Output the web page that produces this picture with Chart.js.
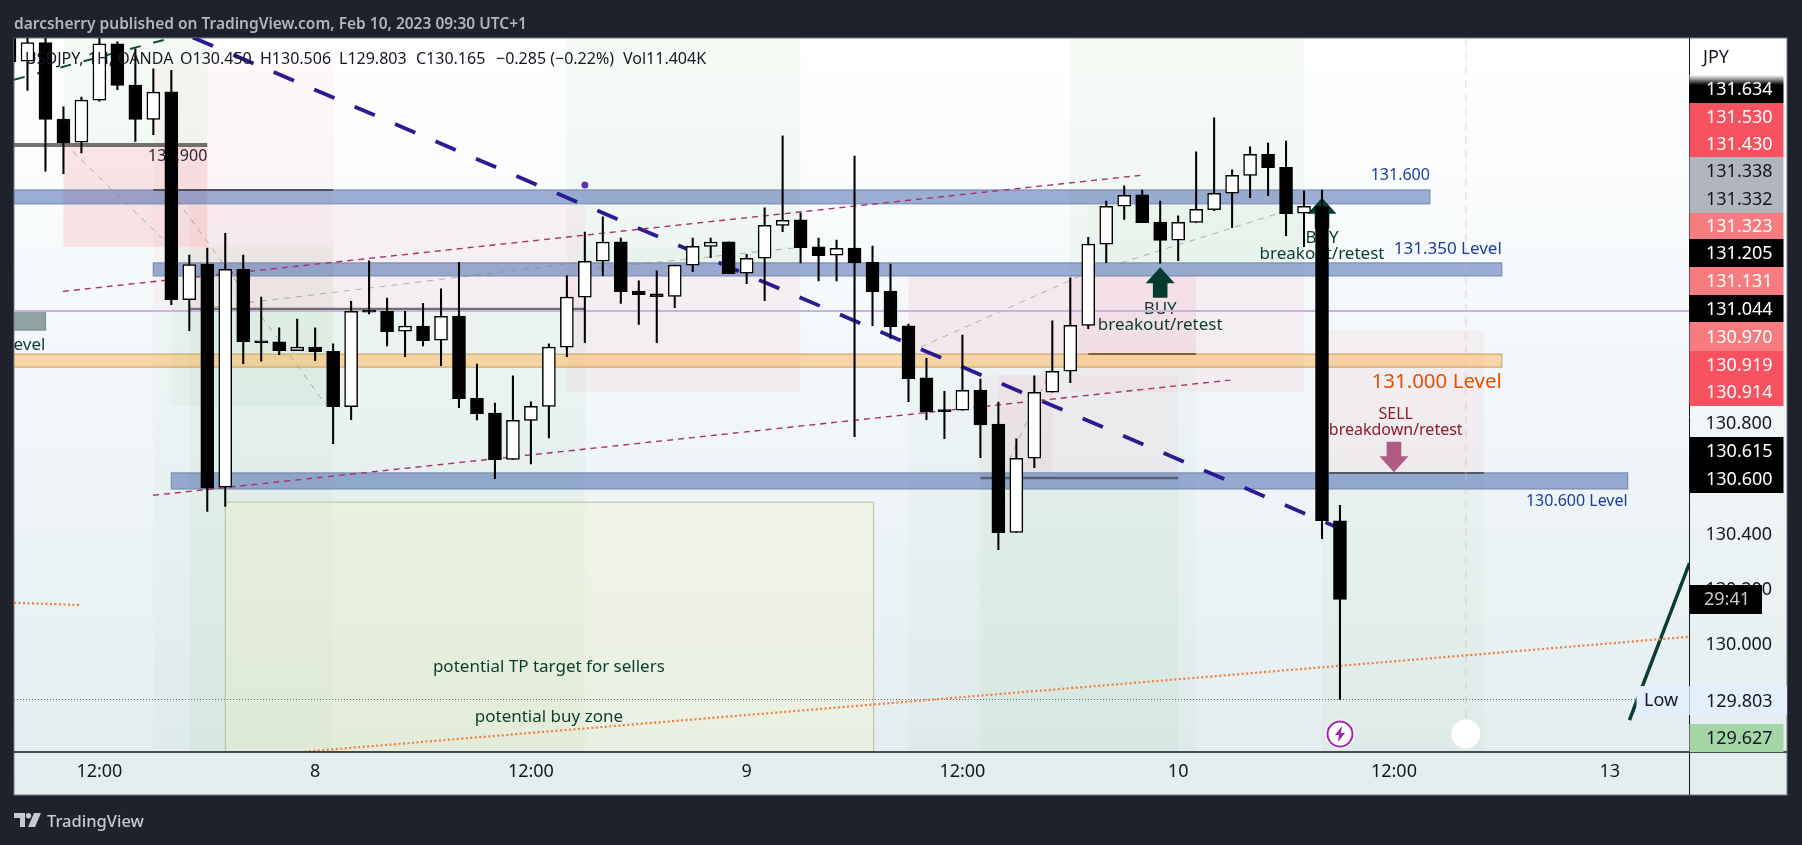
<!DOCTYPE html>
<html>
<head>
<meta charset="utf-8">
<title>USDJPY 1H</title>
<script src="https://cdn.jsdelivr.net/npm/chart.js@4"></script>
<style>
  html, body { margin: 0; padding: 0; background: #1e222d; overflow: hidden; }
  body { width: 1802px; height: 845px; position: relative; font-family: "Noto Sans", sans-serif; }
  canvas { position: absolute; left: 0; top: 0; }
  #title { position: absolute; left: 14px; top: 12px; color: #b2b5be; font-size: 15.5px; font-weight: 600; white-space: nowrap; }
  #brand { position: absolute; left: 14px; top: 809px; color: #c8cad2; font-size: 16.5px; font-weight: 500; white-space: nowrap; }
  #brand svg { position: absolute; left: 0; top: 4px; }
  #brand span { position: absolute; left: 33px; top: 0; }
</style>
</head>
<body>
<canvas id="chart" width="1802" height="845"></canvas>
<div id="title">darcsherry published on TradingView.com, Feb 10, 2023 09:30 UTC+1</div>
<div id="brand">
  <svg width="28" height="15" viewBox="0 0 28 15" fill="#c8cad2">
    <path d="M0 0h11v14H6V5H0z"/><circle cx="14.5" cy="2.7" r="2.7"/><path d="M20 0h7l-6 14h-7z"/>
  </svg>
  <span>TradingView</span>
</div>
<script>
// hourly candles from Feb 7 07:00, index 16 is Feb 8 00:00, first one is cut by the frame
const firstIndex = -1;
const opens = [132.300,132.113,132.180,131.904,131.820,131.972,132.176,132.027,131.902,132.002,131.250,
  131.379,130.571,131.360,131.100,131.097,131.065,131.078,131.063,130.863,131.209,
  131.208,131.136,131.154,131.103,131.191,130.893,130.840,130.672,130.813,130.864,
  131.078,131.259,131.389,131.459,131.281,131.271,131.262,131.375,131.443,131.459,
  131.346,131.400,131.519,131.539,131.441,131.411,131.437,131.385,131.281,131.155,
  130.967,130.851,130.850,130.923,130.800,130.408,130.676,130.915,130.991,131.157,
  131.451,131.588,131.629,131.531,131.465,131.530,131.576,131.635,131.700,131.776,
  131.729,131.563,131.587,130.450];
const highs = [132.300,132.300,132.300,131.948,131.983,132.300,132.183,132.158,132.085,132.080,131.411,
  131.437,131.490,131.411,131.259,131.148,131.180,131.148,131.090,131.244,131.391,
  131.256,131.208,131.237,131.289,131.385,131.017,130.876,130.974,130.880,131.090,
  131.336,131.495,131.550,131.473,131.318,131.354,131.375,131.473,131.473,131.459,
  131.414,131.582,131.843,131.563,131.473,131.466,131.770,131.444,131.379,131.162,
  131.038,130.918,131.122,130.963,130.879,130.746,130.974,131.173,131.329,131.476,
  131.607,131.662,131.647,131.607,131.553,131.785,131.908,131.720,131.803,131.817,
  131.824,131.643,131.647,130.506];
const lows = [132.110,132.007,131.715,131.706,131.781,131.968,132.010,131.823,131.847,131.232,131.138,
  130.484,130.502,131.018,131.027,131.051,131.065,131.029,130.729,130.816,131.198,
  131.083,131.044,131.083,131.011,130.859,130.815,130.602,130.672,130.656,130.750,
  131.044,131.094,131.337,131.236,131.160,131.094,131.221,131.351,131.402,131.344,
  131.308,131.246,131.496,131.383,131.318,131.318,130.754,131.156,131.110,130.881,
  130.816,130.747,130.850,130.678,130.345,130.408,130.642,130.915,130.950,131.145,
  131.384,131.540,131.529,131.382,131.391,131.530,131.572,131.511,131.619,131.626,
  131.482,131.442,130.385,129.803];
const closes = [132.110,132.180,131.902,131.818,131.972,132.176,132.025,131.902,132.001,131.250,131.377,
  130.568,131.360,131.098,131.094,131.065,131.078,131.062,130.863,131.208,131.205,
  131.134,131.154,131.102,131.190,130.892,130.837,130.671,130.813,130.864,131.078,
  131.259,131.389,131.458,131.279,131.268,131.261,131.375,131.443,131.458,131.344,
  131.400,131.519,131.537,131.438,131.409,131.436,131.384,131.279,131.152,130.964,
  130.845,130.845,130.922,130.797,130.407,130.676,130.915,130.991,131.157,131.451,
  131.588,131.628,131.529,131.464,131.530,131.577,131.635,131.700,131.776,131.728,
  131.561,131.588,130.450,130.165];

const timeTickIndex = [4, 16, 28, 40, 52, 64, 76, 88];
const timeTickLabels = ['12:00', '8', '12:00', '9', '12:00', '10', '12:00', '13'];
const priceTicks = [130.0, 130.2, 130.4, 130.8];
const xMin = -0.75, xMax = 92.44, yMin = 129.613, yMax = 132.197;

// drawn objects, bar index and price
const trendBlue = [[8.48, 132.219], [72.8, 130.427]];
const trendPinkUpper = [[1.97, 131.280], [61.9, 131.700]];
const trendPinkLower = [[6.98, 130.542], [66.9, 130.959]];
const trendGreenDash = [[-0.75, 132.046], [9.04, 132.215]];
const trendOrange = [[15.4, 129.614], [92.44, 130.030]];
const trendOrangeLeft = [[-0.75, 130.153], [2.92, 130.145]];
const trendGreenSolid = [[89.1, 129.728], [92.44, 130.297]];
const grayPaths = [
  [[2.03, 131.817], [7.48, 131.473]],
  [[8.31, 131.611], [16.6, 130.869]],
  [[8.98, 131.213], [30.56, 131.383]],
  [[31.0, 131.358], [42.63, 131.437]],
  [[49.69, 131.079], [58.65, 131.339]],
  [[54.6, 130.670], [56.65, 130.959]],
  [[60.8, 131.383], [69.66, 131.564]]
];
const blueDot = [[31, 131.665]];
const lowPrice = [[xMin, 129.803], [xMax, 129.803]];
const purpleLine = [[xMin, 131.209], [xMax, 131.209]];

// from, to, top, bottom
const pinkZones = [
  [2, 10, 131.81, 131.441, 0.12],
  [7, 17, 132.10, 131.209, 0.035],
  [9, 31, 131.593, 131.209, 0.05],
  [30, 43, 131.383, 130.916, 0.05],
  [49, 65, 131.339, 131.053, 0.08],
  [53, 64, 130.977, 130.623, 0.04],
  [54, 57, 130.977, 130.623, 0.05],
  [58, 71, 131.339, 130.916, 0.05],
  [72.4, 81, 131.14, 130.623, 0.05]
];
const greenZones = [
  [2, 10, yMax, 131.81, 0.05],
  [7, 17, 131.209, 129.624, 0.03],
  [8, 17, 131.441, 130.865, 0.05],
  [9, 31, 131.209, yMin, 0.05],
  [30, 43, yMax, 131.383, 0.05],
  [31, 43, 131.441, 131.383, 0.03],
  [49, 65, 131.053, yMin, 0.03],
  [53, 64, 130.623, yMin, 0.05],
  [58, 71, yMax, 131.339, 0.05],
  [59, 71, 131.593, 131.383, 0.04],
  [72, 81, 130.623, yMin, 0.04]
];
const blueBands = [
  [xMin, 78, 131.647, 131.597],
  [7, 82, 131.383, 131.336],
  [8, 89, 130.623, 130.565]
];
const orangeBand = [xMin, 82, 131.053, 131.006];
const targetBox = [11, 47.06, 130.517, yMin];
const greyBox = [xMin, 1, 131.209, 131.14];
// from, to, price, width, colour
const darkLines = [
  [xMin, 10, 131.81, 4, 'rgba(70,70,70,0.75)'],
  [7, 17, 131.647, 2, 'rgba(60,60,70,0.8)'],
  [9, 31, 131.216, 2.5, 'rgba(70,70,70,0.75)'],
  [59, 65, 131.053, 2, 'rgba(110,80,40,0.85)'],
  [53, 64, 130.605, 2.5, 'rgba(70,70,80,0.75)'],
  [72.4, 81, 130.623, 2, 'rgba(70,70,80,0.8)']
];
const labelTexts = ['131.900', '131.600', '131.350 Level', '131.000 Level', '130.600 Level', 'level',
  'BUY', 'breakout/retest', 'BUY', 'breakout/retest', 'SELL', 'breakdown/retest',
  'potential TP target for sellers', 'potential buy zone'];
const labelIndex = [10, 78, 82, 82, 89, 1, 63, 63, 72, 72, 76.1, 76.1, 29, 29];
const labelPrice = [131.767, 131.699, 131.432, 130.950, 130.519, 131.086,
  131.215, 131.158, 131.472, 131.415, 130.833, 130.775, 129.920, 129.739];
const labelColor = ['#2a2530', '#1a3e9c', '#1a3e9c', '#e65100', '#1a3e9c', '#0b3d2e',
  '#0b3d2e', '#0b3d2e', '#0b3d2e', '#0b3d2e', '#8e1b2a', '#8e1b2a', '#0b3d2e', '#0b3d2e'];
const labelSize = [16, 16, 17, 20.5, 16, 17, 17, 17, 17, 17, 16, 16, 17, 17];
const labelAlign = ['right', 'right', 'right', 'right', 'right', 'right',
  'center', 'center', 'center', 'center', 'center', 'center', 'center', 'center'];
const buyArrows = [[63, 131.367], [72, 131.619]];
const sellArrows = [[76, 130.625]];
const legendParts = ['USDJPY, 1H, OANDA', 'O130.450', 'H130.506', 'L129.803', 'C130.165', '\u22120.285 (\u22120.22%)', 'Vol11.404K'];
const legendX = [25, 180, 260, 339, 416, 496, 623];

// price scale tags, stacked as they sit on the axis
const tagLabels = ['131.634', '131.530', '131.430', '131.338', '131.332', '131.323', '131.205', '131.131',
  '131.044', '130.970', '130.919', '130.914', '130.615', '130.600', '129.803', '129.627'];
const tagColors = ['#000000', '#f7525f', '#f7525f', '#b2b5be', '#b2b5be', '#f77c80', '#000000', '#f77c80',
  '#000000', '#f77c80', '#f7525f', '#f7525f', '#000000', '#000000', '#e3effd', '#a5d6a7'];
const tagText = ['#fff', '#fff', '#fff', '#131722', '#131722', '#fff', '#fff', '#fff',
  '#fff', '#fff', '#fff', '#fff', '#fff', '#fff', '#131722', '#131722'];
const tagTops = [75, 103, 130, 157, 185, 213, 239, 267, 295, 322, 351, 378, 437, 465, 686, 724];
const tagBottoms = [103, 130, 157, 185, 213, 239, 267, 295, 322, 351, 378, 406, 465, 493, 715, 752];

const FONT = '"Noto Sans", sans-serif';

function toPoints(pairs) {
  return pairs.map(p => ({ x: p[0], y: p[1] }));
}

function lineSet(pairs, color, width, dash, dashOffset) {
  return {
    type: 'line',
    data: toPoints(pairs),
    borderColor: color,
    borderWidth: width,
    borderDash: dash || [],
    borderDashOffset: dashOffset || 0,
    pointRadius: 0,
    fill: false,
    tension: 0,
    order: 10
  };
}

function arrowPath(ctx, x, y, dir) {
  // y is the tip, dir -1 points up and 1 points down
  const s = -dir;
  ctx.beginPath();
  ctx.moveTo(x, y);
  ctx.lineTo(x + 14.5, y + s * 16);
  ctx.lineTo(x + 7.3, y + s * 16);
  ctx.lineTo(x + 7.3, y + s * 30.5);
  ctx.lineTo(x - 7.3, y + s * 30.5);
  ctx.lineTo(x - 7.3, y + s * 16);
  ctx.lineTo(x - 14.5, y + s * 16);
  ctx.closePath();
  ctx.fill();
}

const backdrop = {
  id: 'backdrop',
  beforeDraw(chart) {
    const ctx = chart.ctx;
    const g = ctx.createLinearGradient(0, 38, 0, 795);
    g.addColorStop(0, '#ffffff');
    g.addColorStop(0.5, '#f1f6f9');
    g.addColorStop(1, '#e2edee');
    ctx.fillStyle = g;
    ctx.fillRect(14, 38, 1773, 757);
    ctx.strokeStyle = '#787b86';
    ctx.lineWidth = 1;
    ctx.strokeRect(14, 38, 1773, 757);
  }
};

const drawings = {
  id: 'drawings',
  beforeDatasetsDraw(chart) {
    const { ctx, chartArea: a, scales: { x, y } } = chart;
    const rect = (r, fill, stroke) => {
      const l = x.getPixelForValue(r[0]), t = y.getPixelForValue(r[2]);
      const w = x.getPixelForValue(r[1]) - l, h = y.getPixelForValue(r[3]) - t;
      ctx.fillStyle = fill;
      ctx.fillRect(l, t, w, h);
      if (stroke) {
        ctx.strokeStyle = stroke;
        ctx.lineWidth = 1.2;
        ctx.strokeRect(l, t, w, h);
      }
    };
    ctx.save();
    ctx.beginPath();
    ctx.rect(a.left, a.top, a.right - a.left, a.bottom - a.top);
    ctx.clip();
    greenZones.forEach(z => rect(z, `rgba(76,175,80,${z[4]})`));
    pinkZones.forEach(z => rect(z, `rgba(242,54,69,${z[4]})`));
    rect(targetBox, 'rgba(255,245,170,0.2)', '#bcc7a8');
    rect(greyBox, '#8fa3a0', '#7e928f');
    blueBands.forEach(b => rect(b, 'rgba(49,84,165,0.47)', '#7b8db0'));
    rect(orangeBand, 'rgba(255,176,70,0.47)', '#cda56c');
    darkLines.forEach(l => {
      ctx.strokeStyle = l[4];
      ctx.lineWidth = l[3];
      ctx.beginPath();
      ctx.moveTo(x.getPixelForValue(l[0]), y.getPixelForValue(l[2]));
      ctx.lineTo(x.getPixelForValue(l[1]), y.getPixelForValue(l[2]));
      ctx.stroke();
    });
    // vertical session line down to the white marker
    ctx.strokeStyle = 'rgba(235,170,185,0.55)';
    ctx.lineWidth = 1;
    ctx.setLineDash([8, 6]);
    ctx.beginPath();
    ctx.moveTo(x.getPixelForValue(80), a.top);
    ctx.lineTo(x.getPixelForValue(80), y.getPixelForValue(129.70));
    ctx.stroke();
    ctx.setLineDash([]);

    ctx.textBaseline = 'middle';
    labelTexts.forEach((t, i) => {
      ctx.font = `${labelSize[i]}px ${FONT}`;
      ctx.fillStyle = labelColor[i];
      ctx.textAlign = labelAlign[i];
      ctx.fillText(t, x.getPixelForValue(labelIndex[i]), y.getPixelForValue(labelPrice[i]));
    });
    ctx.fillStyle = '#053b30';
    buyArrows.forEach(p => arrowPath(ctx, x.getPixelForValue(p[0]), y.getPixelForValue(p[1]), -1));
    ctx.fillStyle = '#b05a84';
    sellArrows.forEach(p => arrowPath(ctx, x.getPixelForValue(p[0]), y.getPixelForValue(p[1]), 1));
    ctx.restore();
  },
  afterDatasetsDraw(chart) {
    // the legend sits on top of the candles, dark on black just disappears
    const ctx = chart.ctx;
    ctx.save();
    ctx.textBaseline = 'middle';
    ctx.font = `16px ${FONT}`;
    ctx.fillStyle = '#131722';
    ctx.textAlign = 'left';
    legendParts.forEach((t, i) => ctx.fillText(t, legendX[i], 59));
    ctx.restore();
  },
  afterDraw(chart) {
    const { ctx, chartArea: a, scales: { x, y } } = chart;
    ctx.strokeStyle = '#131722';
    ctx.lineWidth = 1.5;
    ctx.beginPath();
    ctx.moveTo(14, a.bottom);
    ctx.lineTo(1787, a.bottom);
    ctx.stroke();
    ctx.lineWidth = 1;
    ctx.beginPath();
    ctx.moveTo(a.right, 38);
    ctx.lineTo(a.right, 795);
    ctx.stroke();

    ctx.textBaseline = 'middle';
    ctx.textAlign = 'left';
    ctx.font = `18px ${FONT}`;
    ctx.fillStyle = '#131722';
    ctx.fillText('JPY', 1703, 58);

    tagLabels.forEach((t, i) => {
      const h = tagBottoms[i] - tagTops[i];
      let fill = tagColors[i];
      if (i === 0) {
        fill = ctx.createLinearGradient(0, tagTops[i], 0, tagTops[i] + 10);
        fill.addColorStop(0, '#ffffff');
        fill.addColorStop(1, '#000000');
      }
      ctx.fillStyle = fill;
      ctx.fillRect(a.right, tagTops[i], t === '129.803' ? 97.5 : 94, h);
      ctx.fillStyle = tagText[i];
      ctx.fillText(t, 1706, tagTops[i] + h / 2 + 1);
    });

    // countdown tag under the last candle
    ctx.fillStyle = '#000000';
    ctx.fillRect(a.right, 585, 72.5, 29);
    ctx.fillStyle = '#c8c8c8';
    ctx.fillText('29:41', 1704, 600);

    // low tag at the left of the price axis
    ctx.fillStyle = '#e3effd';
    ctx.fillRect(1636.5, 686, a.right - 1636.5, 29);
    ctx.fillStyle = '#131722';
    ctx.fillText('Low', 1644, 701);

    // session markers
    const cy = y.getPixelForValue(129.678);
    const cx = x.getPixelForValue(73);
    ctx.fillStyle = '#ffffff';
    ctx.beginPath();
    ctx.arc(cx, cy, 14.5, 0, Math.PI * 2);
    ctx.fill();
    ctx.strokeStyle = '#9c27b0';
    ctx.lineWidth = 2;
    ctx.beginPath();
    ctx.arc(cx, cy, 12.5, 0, Math.PI * 2);
    ctx.stroke();
    ctx.fillStyle = '#9c27b0';
    ctx.beginPath();
    ctx.moveTo(cx + 2, cy - 8);
    ctx.lineTo(cx - 5, cy + 1);
    ctx.lineTo(cx - 1, cy + 1);
    ctx.lineTo(cx - 2, cy + 8);
    ctx.lineTo(cx + 5, cy - 1);
    ctx.lineTo(cx + 1, cy - 1);
    ctx.closePath();
    ctx.fill();
    ctx.fillStyle = '#ffffff';
    ctx.beginPath();
    ctx.arc(x.getPixelForValue(80), cy, 14.5, 0, Math.PI * 2);
    ctx.fill();
  }
};

const bodies = opens.map((o, i) => ({ x: i + firstIndex, y: [o, closes[i]] }));
const wicks = lows.map((l, i) => ({ x: i + firstIndex, y: [l, highs[i]] }));
const bodyColors = opens.map((o, i) => (closes[i] >= o ? '#ffffff' : '#000000'));

const datasets = [
  lineSet(trendOrange, '#f57c3a', 2.2, [2, 2.5]),
  lineSet(trendOrangeLeft, '#f57c3a', 2.2, [2, 2.5]),
  lineSet(trendGreenSolid, '#0b3d2e', 3.5),
  lineSet(trendGreenDash, '#0b4f3f', 2, [11, 13]),
  lineSet(trendPinkUpper, '#a8306c', 1.4, [6, 5]),
  lineSet(trendPinkLower, '#a8306c', 1.4, [6, 5]),
  lineSet(lowPrice, '#5d6b73', 1, [1, 2]),
  lineSet(purpleLine, '#c8b4e0', 2),
  lineSet(trendBlue, '#2c1a93', 3.8, [22, 22], 30)
];
grayPaths.forEach(p => datasets.push(lineSet(p, 'rgba(130,130,130,0.6)', 1, [6, 6])));
datasets.push(Object.assign(lineSet(blueDot, '#5e35b1', 0), { pointRadius: 3.5, pointBackgroundColor: '#5e35b1', showLine: false }));
datasets.push({
  type: 'bar',
  data: wicks,
  backgroundColor: '#000000',
  barThickness: 1.4,
  grouped: false,
  order: 2
});
datasets.push({
  type: 'bar',
  data: bodies,
  backgroundColor: bodyColors,
  borderColor: '#000000',
  borderWidth: 1.5,
  borderSkipped: false,
  barThickness: 13,
  minBarLength: 2,
  grouped: false,
  order: 1
});

new Chart(document.getElementById('chart').getContext('2d'), {
  type: 'bar',
  data: { datasets },
  plugins: [backdrop, drawings],
  options: {
    responsive: false,
    animation: false,
    devicePixelRatio: 1,
    layout: { padding: { left: 14, top: 38, right: 15, bottom: 50 } },
    plugins: { legend: { display: false }, tooltip: { enabled: false } },
    scales: {
      x: {
        type: 'linear',
        offset: false,
        min: xMin,
        max: xMax,
        grid: { display: false, drawTicks: false },
        border: { display: false },
        afterBuildTicks: s => { s.ticks = timeTickIndex.map(v => ({ value: v })); },
        afterFit: s => { s.height = 43; },
        ticks: {
          autoSkip: false,
          maxRotation: 0,
          padding: 9,
          color: '#131722',
          font: { family: FONT, size: 18 },
          callback: v => timeTickLabels[timeTickIndex.indexOf(v)]
        }
      },
      y: {
        position: 'right',
        beginAtZero: false,
        min: yMin,
        max: yMax,
        grid: { display: false, drawTicks: false },
        border: { display: false },
        afterBuildTicks: s => { s.ticks = priceTicks.map(v => ({ value: v })); },
        afterFit: s => { s.width = 97.5; },
        ticks: {
          padding: 16,
          color: '#131722',
          font: { family: FONT, size: 18 },
          callback: v => v.toFixed(3)
        }
      }
    }
  }
});
</script>
</body>
</html>
